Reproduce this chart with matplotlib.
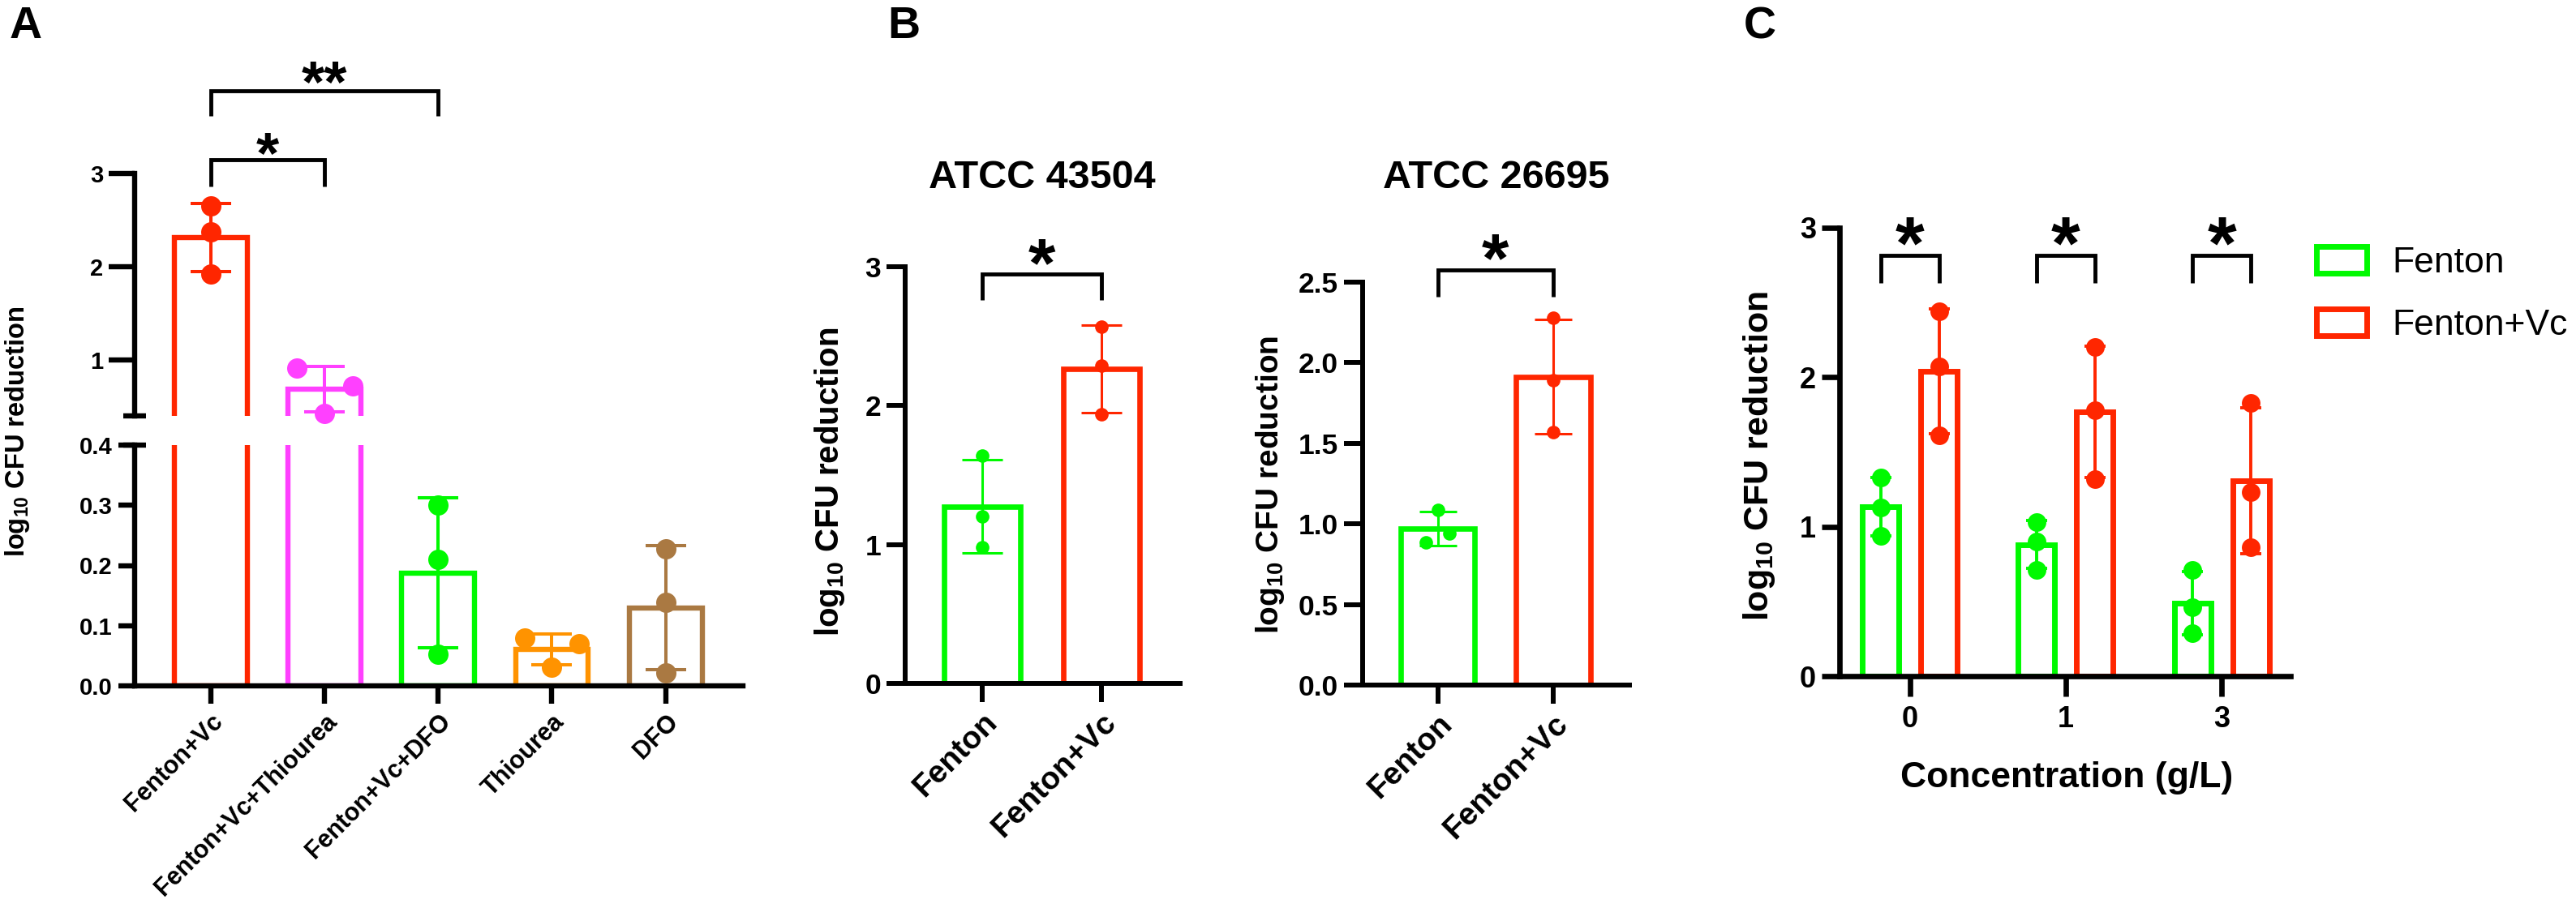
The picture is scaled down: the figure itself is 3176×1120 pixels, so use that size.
import numpy as np
import matplotlib
matplotlib.use('Agg')
import matplotlib.pyplot as plt
from matplotlib.transforms import blended_transform_factory

plt.rcParams['font.family'] = ['Liberation Sans', 'DejaVu Sans']
plt.rcParams['font.weight'] = 'bold'
plt.rcParams['mathtext.fontset'] = 'custom'
plt.rcParams['mathtext.rm'] = 'Liberation Sans:bold'
plt.rcParams['mathtext.bf'] = 'Liberation Sans:bold'
plt.rcParams['mathtext.it'] = 'Liberation Sans:bold'

# ---------------- data ----------------
A_groups = ['Fenton+Vc', 'Fenton+Vc+Thiourea', 'Fenton+Vc+DFO', 'Thiourea', 'DFO']
A_points = [
    [2.65, 2.37, 1.92],
    [0.91, 0.72, 0.43],
    [0.30, 0.21, 0.053],
    [0.080, 0.070, 0.031],
    [0.228, 0.139, 0.022],
]
A_colors = ['#FF2600', '#FF40FF', '#00F900', '#FF9300', '#AA7942']

B_groups = ['Fenton', 'Fenton+Vc']
B_colors = ['#00F900', '#FF2600']
B1_title = 'ATCC 43504'
B1_points = [[1.64, 1.20, 0.98], [2.57, 2.29, 1.94]]
B2_title = 'ATCC 26695'
B2_points = [[1.087, 0.943, 0.885], [2.278, 1.889, 1.569]]

C_conc = ['0', '1', '3']
C_series = ['Fenton', 'Fenton+Vc']
C_fenton = [[1.33, 1.13, 0.94], [1.03, 0.90, 0.71], [0.71, 0.46, 0.29]]
C_fentonvc = [[2.44, 2.07, 1.61], [2.20, 1.78, 1.32], [1.83, 1.23, 0.86]]

ylabel = 'log$_{10}$ CFU reduction'

# ---------------- layout helpers ----------------
W, H, DPI = 3176, 1120, 100
fig = plt.figure(figsize=(W / DPI, H / DPI), dpi=DPI)


def rect(x0, y0, x1, y1):
    return [x0 / W, 1 - y1 / H, (x1 - x0) / W, (y1 - y0) / H]


def fxy(x, y):
    return x / W, 1 - y / H


def style_axes(ax, lw, ytick_len, xtick_len, xsize, ysize, xpad=5, ypad=5):
    for s in ['top', 'right']:
        ax.spines[s].set_visible(False)
    for s in ['left', 'bottom']:
        ax.spines[s].set_linewidth(lw)
    ax.tick_params(axis='y', length=ytick_len, width=lw, labelsize=ysize, pad=ypad)
    ax.tick_params(axis='x', length=xtick_len, width=lw, labelsize=xsize, pad=xpad)


def stats(pts):
    p = [np.asarray(v, float) for v in pts]
    return [v.mean() for v in p], [v.std(ddof=1) for v in p]


def bracket(ax, x1, x2, ytop, ydrop, lw=3.5):
    ax.plot([x1, x1, x2, x2], [ydrop, ytop, ytop, ydrop], color='black', lw=lw,
            clip_on=False, solid_joinstyle='miter', solid_capstyle='butt', zorder=6)


def star(ax, x, ycenter, s, fs):
    ax.annotate(s, xy=(x, ycenter), xytext=(0, -0.567 * fs), textcoords='offset points',
                ha='center', va='baseline', fontsize=fs, fontweight='bold',
                annotation_clip=False, zorder=6)


# ---------------- panel A (broken axis) ----------------
axA_hi = fig.add_axes(rect(166, 214, 916, 513))
axA_lo = fig.add_axes(rect(166, 549, 916, 846))
xA = np.arange(len(A_groups))
mA, sA = stats(A_points)
jitA = [[0, 0, 0], [-0.24, 0.25, 0], [0, 0, 0], [-0.24, 0.24, 0], [0, 0, 0]]
for ax in (axA_hi, axA_lo):
    ax.bar(xA, mA, 0.64, facecolor='white', edgecolor=A_colors, linewidth=4.6, zorder=2)
    for i in range(len(xA)):
        ax.errorbar(xA[i], mA[i], yerr=sA[i], fmt='none', ecolor=A_colors[i],
                    elinewidth=2.9, capsize=18, capthick=2.9, zorder=3)
    ax.set_xlim(-0.67, 4.68)
for i in range(len(xA)):
    for v, j in zip(A_points[i], jitA[i]):
        target = axA_hi if v >= 0.4 else axA_lo
        target.plot(xA[i] + j, v, 'o', color=A_colors[i], ms=18, mec='none',
                    zorder=4, clip_on=False)

axA_hi.set_ylim(0.4, 3)
axA_lo.set_ylim(0, 0.4)
style_axes(axA_hi, 4.6, 23, 16, 22, 21)
style_axes(axA_lo, 4.6, 14.5, 16, 22, 21)
axA_hi.spines['bottom'].set_visible(False)
axA_hi.set_xticks([])
axA_hi.set_yticks([1, 2, 3])
axA_hi.set_yticklabels(['1', '2', '3'])
axA_lo.set_yticks([0, 0.1, 0.2, 0.3, 0.4])
axA_lo.set_yticklabels(['0.0', '0.1', '0.2', '0.3', '0.4'])
axA_lo.set_xticks(xA)
axA_lo.set_xticklabels(A_groups, rotation=45, ha='right', rotation_mode='anchor')
# break marks
half = 14 / 750
for ax in (axA_hi, axA_lo):
    tr = blended_transform_factory(ax.transAxes, ax.transData)
    ax.plot([-half, half], [0.4, 0.4], color='black', lw=4.6, transform=tr,
            clip_on=False, solid_capstyle='butt', zorder=5)
bracket(axA_hi, 0, 1, 3.148, 2.86)
bracket(axA_hi, 0, 2, 3.887, 3.617)
star(axA_hi, 0.5, 3.365, '*', 52)
star(axA_hi, 1.0, 4.13, '**', 52)
fig.text(*fxy(22, 532), ylabel, rotation=90, ha='center', va='center', fontsize=23.5)
fig.text(*fxy(12, 7), 'A', ha='left', va='top', fontsize=40, fontweight='bold')


# ---------------- panel B ----------------
def panel_b(box, pts, title, ylim, yticks, yticklabels, jit, capsize, title_xy, ylab_xy,
            ylab_fs, br, st):
    ax = fig.add_axes(rect(*box))
    x = np.arange(len(B_groups))
    m, s = stats(pts)
    ax.bar(x, m, 0.64, facecolor='white', edgecolor=B_colors, linewidth=4.8, zorder=2)
    for i in range(len(x)):
        ax.errorbar(x[i], m[i], yerr=s[i], fmt='none', ecolor=B_colors[i],
                    elinewidth=2.2, capsize=capsize, capthick=2.2, zorder=3)
        for v, j in zip(pts[i], jit[i]):
            ax.plot(x[i] + j, v, 'o', color=B_colors[i], ms=12, mec='none', zorder=4,
                    clip_on=False)
    ax.set_xlim(-0.65, 1.66)
    ax.set_ylim(*ylim)
    style_axes(ax, 4.3, 16.5, 16.5, 28, 25.5)
    ax.set_yticks(yticks)
    ax.set_yticklabels(yticklabels)
    ax.set_xticks(x)
    ax.set_xticklabels(B_groups, rotation=45, ha='right', rotation_mode='anchor')
    bracket(ax, 0, 1, br[0], br[1])
    star(ax, 0.5, st, '*', 62)
    fig.text(*fxy(*title_xy), title, ha='center', va='baseline', fontsize=35)
    fig.text(*fxy(*ylab_xy), ylabel, rotation=90, ha='center', va='center',
             fontsize=ylab_fs)
    return ax


panel_b((1116, 329, 1455, 843), B1_points, B1_title, (0, 3), [0, 1, 2, 3],
        ['0', '1', '2', '3'], [[0, 0, 0], [0, 0, 0]], 18, (1285, 232), (1023, 594), 29,
        (2.947, 2.76), 3.146)
panel_b((1680, 348, 2009, 845), B2_points, B2_title, (0, 2.5), [0, 0.5, 1.0, 1.5, 2.0, 2.5],
        ['0.0', '0.5', '1.0', '1.5', '2.0', '2.5'], [[0, 0.1, -0.1], [0, 0, 0]], 16.5,
        (1845, 232), (1566, 598), 28, (2.575, 2.41), 2.75)
fig.text(*fxy(1094, 7), 'B', ha='left', va='top', fontsize=40, fontweight='bold')

# ---------------- panel C ----------------
axC = fig.add_axes(rect(2268, 281, 2824, 834))
xC = np.arange(len(C_conc))
off, bw = 0.187, 0.234
handles = []
for pts, col, sign, name in ((C_fenton, '#00F900', -1, C_series[0]),
                             (C_fentonvc, '#FF2600', 1, C_series[1])):
    m, s = stats(pts)
    bars = axC.bar(xC + sign * off, m, bw, facecolor='white', edgecolor=col,
                   linewidth=5.0, zorder=2, label=name)
    handles.append(bars)
    axC.errorbar(xC + sign * off, m, yerr=s, fmt='none', ecolor=col, elinewidth=2.8,
                 capsize=9.5, capthick=2.8, zorder=3)
    for i in range(len(xC)):
        axC.plot(np.full(3, xC[i] + sign * off), pts[i], 'o', color=col, ms=16.5,
                 mec='none', zorder=4, clip_on=False)
axC.set_xlim(-0.45, 2.44)
axC.set_ylim(0, 3)
style_axes(axC, 4.8, 16, 18, 26, 26, xpad=8)
axC.set_yticks([0, 1, 2, 3])
axC.set_yticklabels(['0', '1', '2', '3'])
axC.set_xticks(xC)
axC.set_xticklabels(C_conc)
for i in range(len(xC)):
    bracket(axC, xC[i] - off, xC[i] + off, 2.818, 2.63)
    star(axC, xC[i], 3.01, '*', 66)
fig.text(*fxy(2548, 960), 'Concentration (g/L)', ha='center', va='center', fontsize=32)
fig.text(*fxy(2169, 563), ylabel, rotation=90, ha='center', va='center', fontsize=31)
fig.text(*fxy(2150, 7), 'C', ha='left', va='top', fontsize=40, fontweight='bold')
leg = axC.legend(handles=handles, labels=C_series, loc='upper left',
                 bbox_to_anchor=fxy(2856, 304), bbox_transform=fig.transFigure,
                 frameon=False, handlelength=1.40, handleheight=0.77, handletextpad=0.71,
                 labelspacing=0.81, borderaxespad=0, borderpad=0,
                 prop={'size': 32, 'weight': 'normal'})

fig.savefig('out.png', dpi=DPI, facecolor='white')
